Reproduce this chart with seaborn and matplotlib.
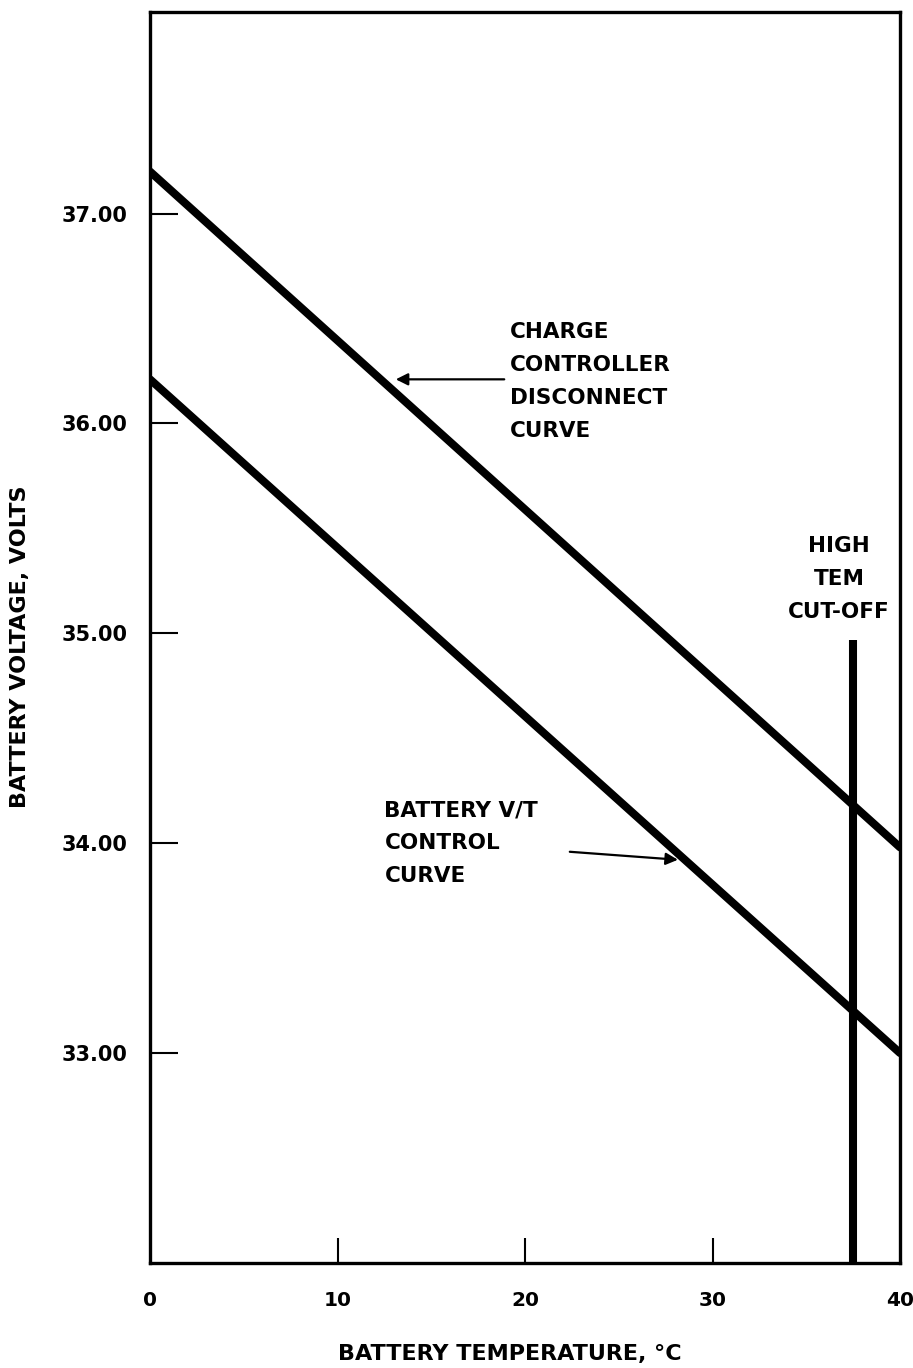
import matplotlib
matplotlib.use("Agg")
import matplotlib.pyplot as plt
import seaborn as sns
import pandas as pd
import numpy as np

# ---- data ----
temp_c = [0, 40]
disconnect_v = [37.20, 33.98]
control_v = [36.21, 33.00]
cutoff_temp = [37.5]
cutoff_ymin = [32.0]
cutoff_ymax = [34.97]
x_ticks = [10, 20, 30]
x_ticklabels_pos = [0, 10, 20, 30, 40]
y_ticks = [33, 34, 35, 36, 37]
y_ticklabels = ["33.00", "34.00", "35.00", "36.00", "37.00"]

df = pd.DataFrame({
    "temp": temp_c * 2,
    "volt": disconnect_v + control_v,
    "curve": ["disconnect"] * 2 + ["control"] * 2,
})

sns.set_theme(style="white")
plt.rcParams["font.family"] = ["DejaVu Sans"]
plt.rcParams["text.color"] = "black"
plt.rcParams["axes.labelcolor"] = "black"
plt.rcParams["xtick.color"] = "black"
plt.rcParams["ytick.color"] = "black"

fig = plt.figure(figsize=(9.13, 13.68), dpi=100)
ax = fig.add_axes([0.1643, 0.0768, 0.8215, 0.9144])

sns.lineplot(data=df, x="temp", y="volt", hue="curve", units="curve",
             estimator=None, palette=["black", "black"], linewidth=5.8,
             legend=False, ax=ax)
ax.vlines(cutoff_temp, cutoff_ymin, cutoff_ymax, color="black", linewidth=5.8)

ax.set_xlim(0, 40)
ax.set_ylim(32, 37.96)
ax.set_xlabel("")
ax.set_ylabel("")

for s in ax.spines.values():
    s.set_color("black")
    s.set_linewidth(2.4)

# ticks
ax.set_yticks(y_ticks)
ax.set_yticklabels(y_ticklabels, fontsize=15, fontweight="bold")
ax.tick_params(axis="y", direction="in", length=20, width=1.5, pad=16,
               colors="black", left=True)
ax.set_xticks(x_ticks)
ax.set_xticklabels([])
ax.tick_params(axis="x", direction="in", length=18, width=1.5,
               colors="black", bottom=True)
# x tick labels including ends
for v in x_ticklabels_pos:
    ax.annotate(str(v), xy=(v, 0), xycoords=("data", "axes fraction"),
                xytext=(0, -27), textcoords="offset points",
                ha="center", va="center", fontsize=14.5, fontweight="bold")

ax.text(0.48, -0.073, "BATTERY TEMPERATURE, °C",
        transform=ax.transAxes, ha="center", va="center",
        fontsize=16, fontweight="bold")
fig.text(0.022, 0.527, "BATTERY VOLTAGE, VOLTS", rotation=90,
         ha="center", va="center", fontsize=16, fontweight="bold")

# annotations
ann_fs = 15.5
ax.text(19.2, 36.20, "CHARGE\nCONTROLLER\nDISCONNECT\nCURVE",
        ha="left", va="center", fontsize=ann_fs, fontweight="bold",
        linespacing=1.8)
ax.annotate("", xy=(12.96, 36.21), xytext=(19.04, 36.21),
            arrowprops=dict(arrowstyle="-|>", color="black", lw=1.6,
                            mutation_scale=18))
ax.text(12.5, 34.0, "BATTERY V/T\nCONTROL\nCURVE",
        ha="left", va="center", fontsize=ann_fs, fontweight="bold",
        linespacing=1.8)
ax.annotate("", xy=(28.3, 33.92), xytext=(22.24, 33.96),
            arrowprops=dict(arrowstyle="-|>", color="black", lw=1.6,
                            mutation_scale=18))
ax.text(36.75, 35.26, "HIGH\nTEM\nCUT-OFF",
        ha="center", va="center", fontsize=ann_fs, fontweight="bold",
        linespacing=1.8)

fig.savefig("out.png", dpi=100, facecolor="white")
